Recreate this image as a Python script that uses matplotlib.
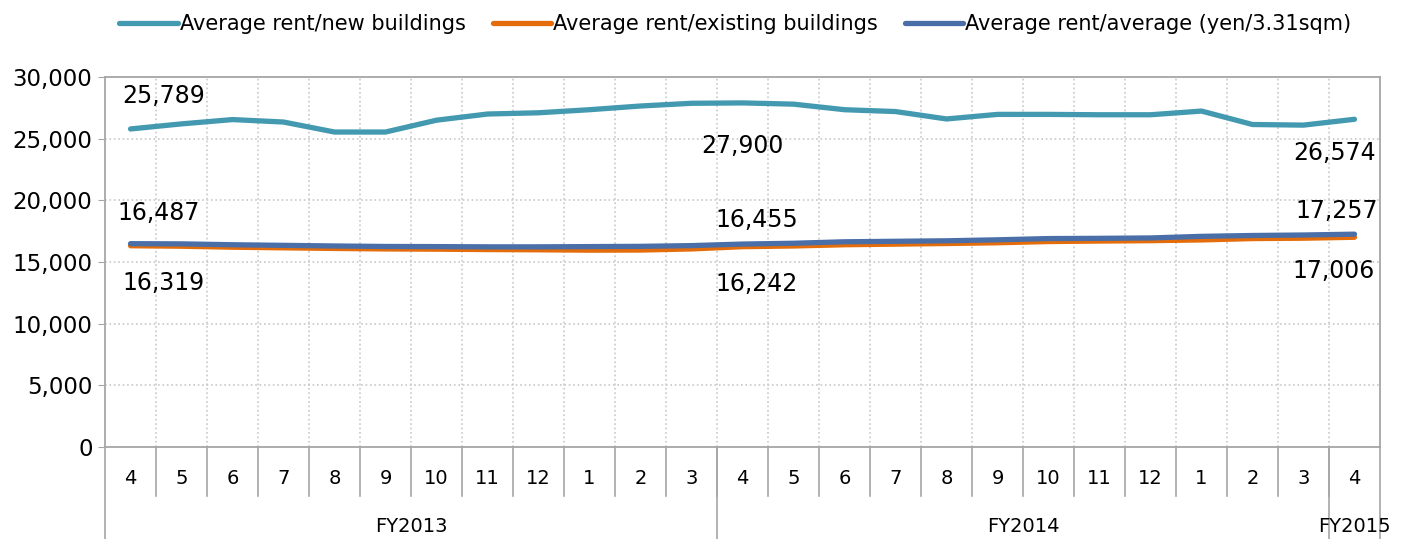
import matplotlib

matplotlib.use("Agg")
import matplotlib.pyplot as plt
from matplotlib.ticker import FuncFormatter, MultipleLocator
import matplotlib.transforms as mtransforms

# dados (yen / 3.31 sqm)
MESES = ["4", "5", "6", "7", "8", "9", "10", "11", "12", "1", "2", "3",
         "4", "5", "6", "7", "8", "9", "10", "11", "12", "1", "2", "3", "4"]
ANOS = ["FY2013", "FY2014", "FY2015"]
MESES_POR_ANO = [12, 12, 1]

novos = [25789, 26200, 26550, 26350, 25540, 25540, 26500, 27000, 27100, 27350,
         27650, 27870, 27900, 27800, 27350, 27200, 26600, 26970, 26970, 26940,
         26940, 27240, 26150, 26100, 26574]
existentes = [16319, 16280, 16200, 16150, 16100, 16060, 16040, 16010, 15990, 15960,
              15970, 16060, 16242, 16300, 16400, 16450, 16500, 16560, 16660, 16700,
              16730, 16790, 16900, 16930, 17006]
media = [16487, 16470, 16400, 16350, 16300, 16260, 16250, 16230, 16230, 16250,
         16270, 16330, 16455, 16520, 16640, 16680, 16720, 16800, 16900, 16920,
         16950, 17080, 17150, 17190, 17257]

ROTULOS_SERIES = ["Average rent/new buildings", "Average rent/existing buildings",
                  "Average rent/average (yen/3.31sqm)"]
CORES = ["#4399b0", "#e46c0a", "#4a6fa8"]

fig = plt.figure(figsize=(14.06, 5.39), dpi=100)
ax = fig.add_axes([0.0747, 0.1707, 0.9068, 0.6864])

x = list(range(len(MESES)))
for serie, cor, rot in zip([novos, existentes, media], CORES, ROTULOS_SERIES):
    ax.plot(x, serie, color=cor, linewidth=3.8, label=rot, solid_capstyle="round")

ax.set_xlim(-0.5, len(MESES) - 0.5)
ax.set_ylim(0, 30000)
ax.yaxis.set_major_locator(MultipleLocator(5000))
ax.yaxis.set_major_formatter(FuncFormatter(lambda v, p: f"{int(v):,}"))
ax.tick_params(axis="y", labelsize=16.5, length=5, color="#a6a6a6", pad=4)
ax.set_xticks([i + 0.5 for i in range(len(MESES) - 1)], minor=True)
ax.set_xticks([])
ax.grid(True, which="major", axis="y", color="#c8c8c8", linestyle=":", linewidth=1.2)
ax.grid(True, which="minor", axis="x", color="#c8c8c8", linestyle=":", linewidth=1.2)
ax.tick_params(axis="x", which="minor", length=0)
for s in ax.spines.values():
    s.set_color("#a6a6a6")
    s.set_linewidth(1.3)

# eixo de categorias em dois niveis
trans = mtransforms.blended_transform_factory(ax.transData, ax.transAxes)
px = 1 / (539 * 0.6864)
for i, m in enumerate(MESES):
    ax.text(i, -32 * px, m, transform=trans, ha="center", va="center",
            fontsize=14, clip_on=False)
for i in range(len(MESES) - 1):
    ax.plot([i + 0.5, i + 0.5], [0, -49 * px], transform=trans, color="#a6a6a6",
            linewidth=1.2, clip_on=False)
inicio = 0
for ano, n in zip(ANOS, MESES_POR_ANO):
    esq, dir_ = inicio - 0.5, inicio + n - 0.5
    ax.plot([esq, esq], [0, -95 * px], transform=trans, color="#a6a6a6",
            linewidth=1.2, clip_on=False)
    ax.text((esq + dir_) / 2, -80 * px, ano, transform=trans, ha="center",
            va="center", fontsize=14, clip_on=False)
    inicio += n
ax.plot([len(MESES) - 0.5] * 2, [0, -95 * px], transform=trans, color="#a6a6a6",
        linewidth=1.2, clip_on=False)

# rotulos de dados
ultimo = len(MESES) - 1
anotacoes = [
    (0, novos, (24, 24)), (0, media, (20, 22)), (0, existentes, (24, -27)),
    (12, novos, (0, -31)), (12, media, (10, 17)), (12, existentes, (10, -27)),
    (ultimo, novos, (-14, -24)), (ultimo, media, (-13, 17)), (ultimo, existentes, (-15, -24)),
]
for i, serie, off in anotacoes:
    ax.annotate(f"{serie[i]:,}", (i, serie[i]), xytext=off, textcoords="offset points",
                ha="center", va="center", fontsize=17)

fig.legend(loc="center", bbox_to_anchor=(0.523, 0.955), ncol=3, frameon=False,
           fontsize=15, handlelength=2.8, handletextpad=0.1, columnspacing=1.3)

fig.savefig("out.png", dpi=100)
plt.close(fig)
